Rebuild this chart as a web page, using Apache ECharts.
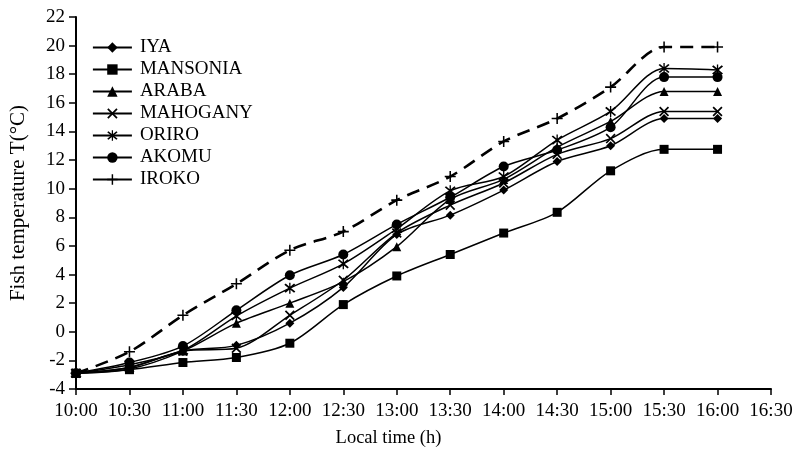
<!DOCTYPE html>
<html>
<head>
<meta charset="utf-8">
<script src="https://cdn.jsdelivr.net/npm/echarts@6/dist/echarts.min.js"></script>
<style>
html,body{margin:0;padding:0;background:#fff;}
#chart{width:797px;height:453px;}
</style>
</head>
<body>
<div id="chart"></div>
<script>
const timeLabels = ['10:00','10:30','11:00','11:30','12:00','12:30','13:00','13:30','14:00','14:30','15:00','15:30','16:00','16:30'];
const seriesNames = ['IYA','MANSONIA','ARABA','MAHOGANY','ORIRO','AKOMU','IROKO'];
const iya      = [-2.9, -2.5, -1.35, -0.95, 0.6, 3.1, 6.8, 8.15, 9.9, 11.9, 13.0, 14.9, 14.9];
const mansonia = [-2.9, -2.65, -2.15, -1.8, -0.8, 1.9, 3.9, 5.4, 6.9, 8.35, 11.25, 12.75, 12.75];
const araba    = [-2.9, -2.6, -1.35, 0.6, 2.0, 3.5, 5.95, 9.25, 10.65, 12.9, 14.7, 16.8, 16.8];
const mahogany = [-2.9, -2.5, -1.35, -1.15, 1.15, 3.6, 6.9, 8.85, 10.4, 12.4, 13.5, 15.4, 15.4];
const oriro    = [-2.9, -2.3, -1.3, 1.1, 3.05, 4.75, 7.2, 9.85, 10.85, 13.4, 15.4, 18.4, 18.3];
const akomu    = [-2.9, -2.15, -1.0, 1.5, 3.95, 5.4, 7.5, 9.4, 11.55, 12.7, 14.3, 17.8, 17.8];
const iroko    = [-2.9, -1.4, 1.15, 3.35, 5.7, 7.0, 9.2, 10.85, 13.3, 14.9, 17.1, 19.9, 19.9];

const FONT = 'Liberation Serif';
const crossPath = 'path://M0,1.2L1.2,0L5,3.8L8.8,0L10,1.2L6.2,5L10,8.8L8.8,10L5,6.2L1.2,10L0,8.8L3.8,5Z';
const starPath = 'path://M0,1.2L1.2,0L5,3.8L8.8,0L10,1.2L6.2,5L10,8.8L8.8,10L5,6.2L1.2,10L0,8.8L3.8,5ZM4.4,-1H5.6V11H4.4Z';
const plusPath = 'path://M4.3,0H5.7V4.3H10V5.7H5.7V10H4.3V5.7H0V4.3H4.3Z';

const defs = [
  {name:'IYA', data:iya, symbol:'diamond', size:9},
  {name:'MANSONIA', data:mansonia, symbol:'rect', size:9},
  {name:'ARABA', data:araba, symbol:'triangle', size:9},
  {name:'MAHOGANY', data:mahogany, symbol:crossPath, size:10},
  {name:'ORIRO', data:oriro, symbol:starPath, size:11},
  {name:'AKOMU', data:akomu, symbol:'circle', size:10},
  {name:'IROKO', data:iroko, symbol:plusPath, size:11, dashed:true}
];

const series = defs.map(d => ({
  name: d.name,
  type: 'line',
  data: d.data,
  smooth: 0.3,
  symbol: d.symbol,
  symbolSize: d.size,
  showAllSymbol: true,
  lineStyle: {color:'#000', width: d.dashed ? 2.6 : 1.5, type: d.dashed ? [13,8] : 'solid'},
  itemStyle: {color:'#000', borderWidth:0},
  emphasis: {disabled:true},
  animation: false,
  z: d.dashed ? 3 : 2
}));

const chart = echarts.init(document.getElementById('chart'), null, {renderer:'canvas'});
chart.setOption({
  backgroundColor:'#fff',
  animation:false,
  grid:{left:75, right:26, top:17, bottom:62, containLabel:false},
  legend:{
    orient:'vertical', left:92, top:38, padding:0,
    itemWidth:39, itemHeight:13, itemGap:3,
    textStyle:{fontFamily:FONT, fontSize:19, color:'#000', padding:[0,0,0,3]},
    data: seriesNames.map(n => ({name:n, lineStyle:{type:'solid', width:1.8}, itemStyle:{color:'#000'}}))
  },
  xAxis:{
    type:'category', data:timeLabels, boundaryGap:false,
    name:'Local time (h)', nameLocation:'middle', nameGap:40,
    nameTextStyle:{fontFamily:FONT, fontSize:18.5, color:'#000', padding:[0,70,0,0]},
    axisLine:{onZero:false, lineStyle:{color:'#000', width:2}},
    axisTick:{show:true, length:6, lineStyle:{color:'#000', width:1.5}, alignWithLabel:true},
    axisLabel:{fontFamily:FONT, fontSize:19, color:'#000', margin:13, interval:0},
    splitLine:{show:false}
  },
  yAxis:{
    type:'value', min:-4, max:22, interval:2,
    name:'Fish temperature T(°C)', nameLocation:'middle', nameGap:47,
    nameTextStyle:{fontFamily:FONT, fontSize:21, color:'#000'},
    axisLine:{show:true, onZero:false, lineStyle:{color:'#000', width:2}},
    axisTick:{show:true, length:7, lineStyle:{color:'#000', width:1.5}},
    axisLabel:{fontFamily:FONT, fontSize:19, color:'#000', margin:11},
    splitLine:{show:false}
  },
  series: series
});
</script>
</body>
</html>
